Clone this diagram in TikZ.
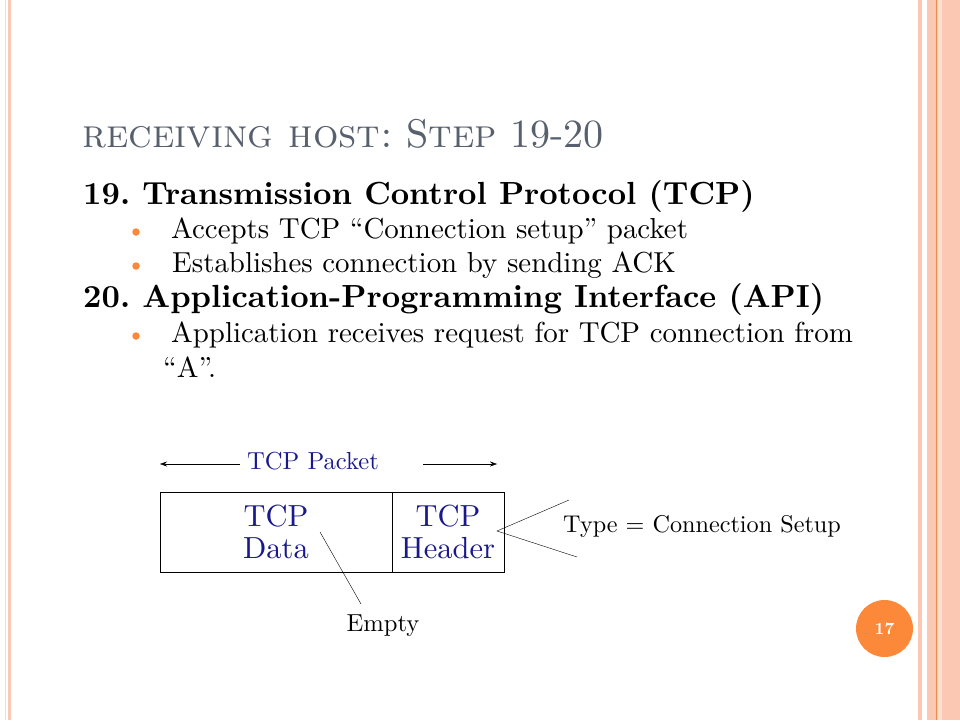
\documentclass[tikz,border=0pt]{standalone}
\usepackage{fontspec}
\setmainfont{lmroman10-regular.otf}[BoldFont=lmroman10-bold.otf,
  SmallCapsFont=lmromancaps10-regular.otf]
\usetikzlibrary{arrows.meta}
\definecolor{peach}{RGB}{251,200,180}
\definecolor{stripeorange}{RGB}{238,140,80}
\definecolor{badgeorange}{RGB}{252,136,58}
\definecolor{titlegrey}{RGB}{88,96,110}
\definecolor{packetblue}{RGB}{25,25,140}
\newcommand{\fs}[1]{\fontsize{#1}{#1}\selectfont}
\frenchspacing
\begin{document}
\begin{tikzpicture}[x=1pt, y=-1pt, every node/.style={inner sep=0pt},
    heading/.style={anchor=base west, font=\bfseries\fs{32}},
    itemtext/.style={anchor=base west, font=\fs{28.9}},
    bulletdot/.style={circle, fill=badgeorange, minimum size=7.5pt},
    field/.style={draw, thick, minimum height=80pt, align=center,
      text=packetblue, font=\fs{30.5}},
    label/.style={font=\fs{24.6}},
    pointer/.style={draw, thin},
    arrowline/.style={draw, -{Stealth[length=7pt, width=5pt]}}]
  \useasboundingbox (0,0) rectangle (960,720);
  \fill[white] (0,0) rectangle (960,720);

  % Strisce laterali
  \fill[peach!70] (5,0) rectangle (6.3,720);
  \fill[peach] (7.5,0) rectangle (11,720);
  \fill[peach] (918,0) rectangle (922,720);
  \fill[peach] (927,0) rectangle (960,720);
  \fill[stripeorange] (935.8,0) rectangle (936.8,720);
  \fill[peach!60] (938,0) rectangle (942,720);

  % Titolo
  \node (title) at (82,147) [anchor=base west, text=titlegrey, font=\fs{40}]
    {\textsc{receiving host:} S\textsc{tep} 19-20};

  % Testo
  \node (h19) at (83,204) [heading] {19. Transmission Control Protocol (TCP)};
  \node (d1) at (136,232) [bulletdot] {};
  \node (t1) at (171,238) [itemtext] {Accepts TCP ``Connection setup'' packet};
  \node (d2) at (136,266) [bulletdot] {};
  \node (t2) at (172,272) [itemtext] {Establishes connection by sending ACK};
  \node (h20) at (83,307) [heading] {20. Application-Programming Interface (API)};
  \node (d3) at (136,336) [bulletdot] {};
  \node (t3) at (171,342) [itemtext] {Application receives request for TCP connection from};
  \node (t4) at (163,377) [itemtext] {``A''.};

  % Pacchetto
  \node (data) at (276,532) [field, minimum width=232pt] {TCP\\[1.5pt]Data};
  \node (header) at (448,532) [field, minimum width=112pt] {TCP\\[1.5pt]Header};
  \node (pkt) at (313,461) [label, text=packetblue] {TCP Packet};
  \node (type) at (563,526) [label, anchor=west, font=\fs{24.2}] {Type = Connection Setup};
  \node (empty) at (383,626) [label] {Empty};

  % Collegamenti
  \coordinate (lstart) at (240,464);
  \coordinate (lend) at (160,464);
  \coordinate (rstart) at (423,464);
  \coordinate (rend) at (497,464);
  \draw[arrowline] (lstart) -- (lend);
  \draw[arrowline] (rstart) -- (rend);
  \coordinate (hdrpt) at (497,531);
  \coordinate (typeup) at (569,500);
  \coordinate (typedown) at (577,557);
  \draw[pointer] (typeup) -- (hdrpt) -- (typedown);
  \coordinate (datapt) at (320,532);
  \coordinate (emptytip) at (361,604);
  \draw[pointer] (datapt) -- (emptytip);

  % Numero pagina
  \node (pagenum) at (884.5,628.5) [circle, fill=badgeorange, minimum size=57pt,
    text=white, font=\bfseries\fs{17}] {17};
\end{tikzpicture}
\end{document}
